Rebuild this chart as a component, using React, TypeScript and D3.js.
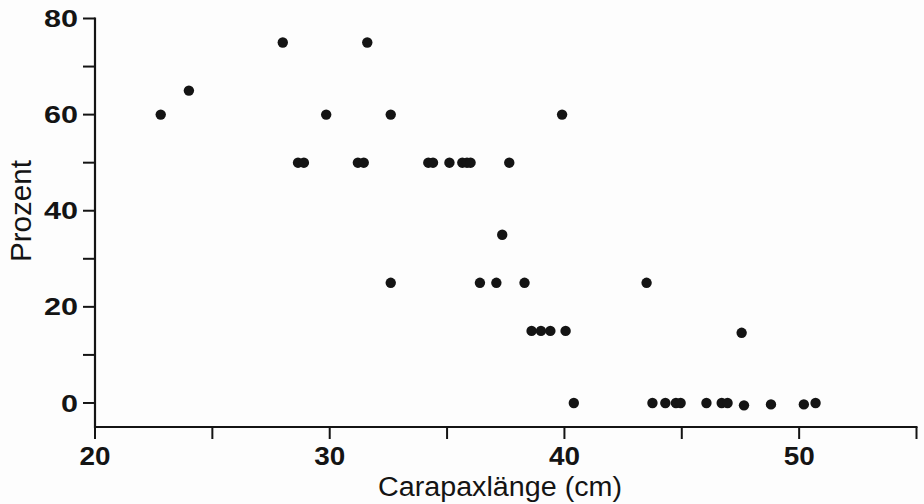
import React from "react";
import * as d3 from "d3";

const lengthsCm: number[] = [
  22.8, 24.0, 28.0, 28.65, 28.9, 29.85, 31.6, 31.2, 31.45, 32.6,
  34.2, 34.4, 35.1, 35.65, 35.85, 36.0, 37.65, 39.9, 37.35, 32.6,
  36.4, 37.1, 38.3, 38.6, 39.0, 39.4, 40.05, 40.4, 43.5, 47.55,
  43.75, 44.3, 44.75, 44.95, 46.05, 46.7, 46.95, 47.65, 48.8, 50.2, 50.7,
];
const percents: number[] = [
  60, 65, 75, 50, 50, 60, 75, 50, 50, 60,
  50, 50, 50, 50, 50, 50, 50, 60, 35, 25,
  25, 25, 25, 15, 15, 15, 15, 0, 25, 14.6,
  0, 0, 0, 0, 0, 0, 0, -0.5, -0.3, -0.3, 0,
];
const xMajorTicks: number[] = [20, 30, 40, 50];
const xMinorTicks: number[] = [25, 35, 45, 55];
const yMajorTicks: number[] = [0, 20, 40, 60, 80];
const yMinorTicks: number[] = [10, 30, 50, 70];
const xTitle = "Carapaxlänge (cm)";
const yTitle = "Prozent";

const W = 924;
const H = 504;
const ink = "#141414";
const font = "'Liberation Sans', Arial, Helvetica, sans-serif";

export default function App() {
  const x = d3.scaleLinear().domain([20, 55]).range([95, 916.5]);
  const y = d3.scaleLinear().domain([-5, 80]).range([427, 18.5]);
  const x0 = x(20);
  const yAxisY = y(-5);
  const tickLen = 12;
  const pts = lengthsCm.map((v, i) => ({ x: v, y: percents[i] }));

  return (
    <svg
      width={W}
      height={H}
      style={{ position: "absolute", left: 0, top: 0, background: "#fdfdfd" }}
    >
      <rect width={W} height={H} fill="#fdfdfd" />
      {/* y axis */}
      <line x1={x0} x2={x0} y1={y(80) - 1} y2={yAxisY + 1} stroke={ink} strokeWidth={2.2} />
      {[...yMajorTicks, ...yMinorTicks].map((t) => (
        <line key={"yt" + t} x1={x0 - tickLen} x2={x0} y1={y(t)} y2={y(t)} stroke={ink} strokeWidth={2} />
      ))}
      {yMajorTicks.map((t) => (
        <text
          key={"yl" + t}
          x={78}
          y={y(t)}
          dy="0.36em"
          textAnchor="end"
          fontFamily={font}
          fontWeight="bold"
          fontSize={24}
          fill={ink}
          textLength={String(t).length * 17}
          lengthAdjust="spacingAndGlyphs"
        >
          {t}
        </text>
      ))}
      {/* x axis */}
      <line x1={x0 - 1} x2={x(55) + 1} y1={yAxisY} y2={yAxisY} stroke={ink} strokeWidth={2.2} />
      {[...xMajorTicks, ...xMinorTicks].map((t) => (
        <line key={"xt" + t} x1={x(t)} x2={x(t)} y1={yAxisY} y2={yAxisY + tickLen} stroke={ink} strokeWidth={2} />
      ))}
      {xMajorTicks.map((t) => (
        <text
          key={"xl" + t}
          x={x(t)}
          y={465}
          textAnchor="middle"
          fontFamily={font}
          fontWeight="bold"
          fontSize={25}
          fill={ink}
          textLength={31}
          lengthAdjust="spacingAndGlyphs"
        >
          {t}
        </text>
      ))}
      <text
        x={500}
        y={496}
        textAnchor="middle"
        fontFamily={font}
        fontSize={27}
        fill={ink}
        textLength={244}
        lengthAdjust="spacingAndGlyphs"
      >
        {xTitle}
      </text>
      <text
        transform={`translate(31, ${211}) rotate(-90)`}
        textAnchor="middle"
        fontFamily={font}
        fontSize={29}
        fill={ink}
        textLength={102}
        lengthAdjust="spacingAndGlyphs"
      >
        {yTitle}
      </text>
      {pts.map((p, i) => (
        <circle key={i} cx={x(p.x)} cy={y(p.y)} r={5.2} fill={ink} />
      ))}
    </svg>
  );
}
